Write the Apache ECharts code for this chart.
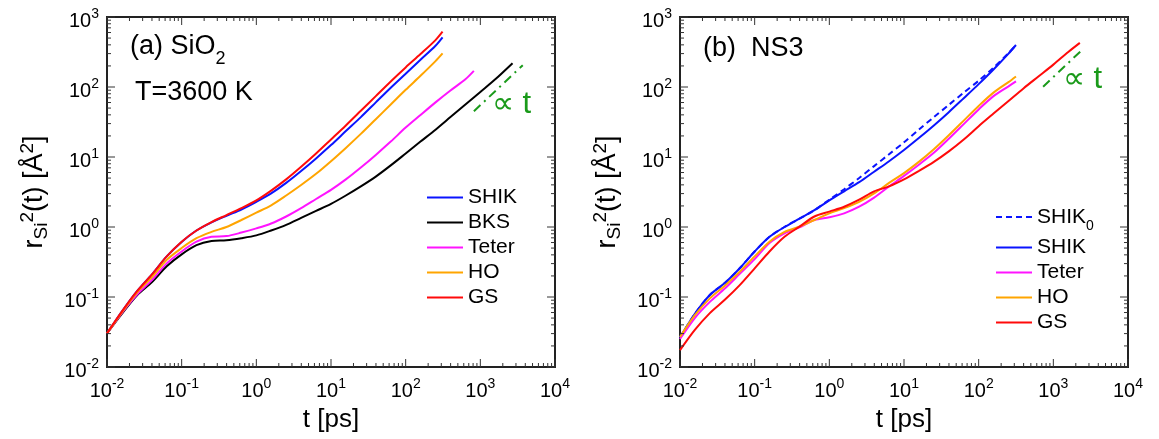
<!DOCTYPE html>
<html><head><meta charset="utf-8">
<script src="https://cdn.jsdelivr.net/npm/echarts@6/dist/echarts.min.js"></script>
<style>html,body{margin:0;padding:0;background:#fff}#c{width:1159px;height:439px}</style>
</head><body><div id="c"></div>
<script>
const FONT = '"Liberation Sans", Arial, Helvetica, sans-serif';

// ---------- panel (a) SiO2 ----------
const tA      = [0.01,0.0158,0.0251,0.0398,0.0631,0.1,0.158,0.251,0.398,0.631,1,1.58,2.51,3.98,6.31,10,15.8,25.1,39.8,63.1,100,158,251,312];
const shikA   = [0.0302,0.0617,0.120,0.209,0.380,0.610,0.891,1.161,1.445,1.778,2.291,3.020,4.266,6.310,9.550,14.79,23.44,37.15,60.26,97.72,154.9,245.5,389.0,512.9];
const gsA     = [0.0302,0.0617,0.120,0.209,0.380,0.617,0.891,1.175,1.479,1.862,2.399,3.311,4.786,7.244,11.22,17.78,28.18,45.71,74.13,120.2,190.5,295.1,467.7,616.6];
const hoA     = [0.0302,0.0603,0.115,0.191,0.339,0.501,0.692,0.851,1.0,1.259,1.603,2.042,2.818,3.981,5.754,8.710,13.49,21.38,34.67,56.23,91.20,144.5,234.4,302.0];
const tTeterA = [0.01,0.0158,0.0251,0.0398,0.0631,0.1,0.158,0.251,0.398,0.631,1,1.58,2.51,3.98,6.31,10,15.8,25.1,39.8,63.1,100,158,251,398,631,819];
const teterA  = [0.0302,0.0589,0.107,0.174,0.302,0.447,0.617,0.724,0.741,0.832,0.955,1.122,1.413,1.862,2.512,3.388,4.786,7.079,10.72,16.60,26.30,39.81,60.26,89.13,128.8,169.8];
const tBksA   = [0.01,0.0158,0.0251,0.0398,0.0631,0.1,0.158,0.251,0.398,0.631,1,1.58,2.51,3.98,6.31,10,15.8,25.1,39.8,63.1,100,158,251,398,631,1000,1585,2700];
const bksA    = [0.0302,0.0575,0.105,0.162,0.275,0.407,0.550,0.631,0.646,0.692,0.759,0.891,1.072,1.349,1.698,2.138,2.818,3.802,5.248,7.586,11.22,16.60,24.55,37.15,56.23,85.11,128.8,218.8];
const propTA  = [820, 3700];
const propRA  = [45, 205];

// ---------- panel (b) NS3 ----------
const tB      = [0.01,0.0158,0.0251,0.0398,0.0631,0.1,0.158,0.251,0.398,0.631,1,1.58,2.51,3.98,6.31,10,15.8,25.1,39.8,63.1,100,158,251,316];
const shikB   = [0.0263,0.0575,0.107,0.158,0.257,0.447,0.724,1.0,1.318,1.738,2.399,3.236,4.365,6.166,8.710,12.59,18.62,28.18,43.65,69.18,110.0,178.0,300.0,398.1];
const shik0B  = [0.0263,0.0575,0.107,0.158,0.257,0.447,0.724,1.0,1.318,1.738,2.455,3.467,5.012,7.413,10.96,16.22,24.55,37.15,55.46,83.18,123.0,189.0,305.0,398.1];
const hoB     = [0.0269,0.0550,0.0955,0.145,0.229,0.380,0.617,0.851,1.012,1.259,1.567,1.862,2.291,3.020,4.266,5.888,8.511,12.88,20.42,33.11,53.70,83.18,117.5,141.3];
const teterB  = [0.0251,0.0501,0.0851,0.132,0.214,0.347,0.589,0.813,0.989,1.259,1.380,1.567,1.950,2.630,3.802,5.370,7.762,11.48,18.20,29.51,47.86,74.13,102.3,120.2];
const tGsB    = [0.01,0.0158,0.0251,0.0398,0.0631,0.1,0.158,0.251,0.398,0.631,1,1.58,2.51,3.98,6.31,10,15.8,25.1,39.8,63.1,100,158,251,398,631,1000,1585,2265];
const gsB     = [0.0174,0.0339,0.0589,0.0912,0.148,0.257,0.447,0.724,1.012,1.413,1.660,1.950,2.455,3.236,3.802,4.786,6.310,8.511,12.02,17.78,27.54,41.69,63.10,95.50,141.3,208.9,316.2,426.6];
const propTB  = [730, 2560];
const propRB  = [101, 358];

// ---------- axes ----------
const xExps = ['-2','-1','0','1','2','3','4'];
const yExps = ['-2','-1','0','1','2','3'];
const xMin = 0.01, xMax = 10000, yMin = 0.01, yMax = 1000;

const COLORS = {SHIK:'#0a14ff', BKS:'#000000', Teter:'#ff14ff', HO:'#ffa500', GS:'#ff0a0a', prop:'#1a9a1a'};

function zip(t, r){ return t.map((v,i)=>[v, r[i]]); }

// tick list (major at decades, minor at 2..9)
function tickList(lo, hi, axisFlag){
  const out = [];
  for (let e = lo; e <= hi; e++){
    const d = Math.pow(10, e);
    out.push(axisFlag === 0 ? [d, 1, 0, 1] : [1, d, 1, 1]);
    if (e < hi) for (let m = 2; m <= 9; m++){
      const v = m * d;
      out.push(axisFlag === 0 ? [v, 1, 0, 0] : [1, v, 1, 0]);
    }
  }
  return out;
}
const tickData = tickList(-2, 4, 0).concat(tickList(-2, 3, 1));

function tickSeries(idx){
  return {
    type:'custom', xAxisIndex: idx, yAxisIndex: idx, silent:true, clip:false, z: 5,
    dimensions:['x','y','axis','major'],
    encode:{x:0, y:1},
    data: tickData,
    renderItem: function(params, api){
      const cs = params.coordSys;
      const len = api.value(3) ? 8 : 4;
      const st = {stroke:'#333', lineWidth:1};
      if (api.value(2) === 0){
        const x = api.coord([api.value(0), 1])[0];
        return {type:'group', children:[
          {type:'line', shape:{x1:x, y1:cs.y+cs.height, x2:x, y2:cs.y+cs.height-len}, style:st},
          {type:'line', shape:{x1:x, y1:cs.y, x2:x, y2:cs.y+len}, style:st}
        ]};
      } else {
        const y = api.coord([1, api.value(1)])[1];
        return {type:'group', children:[
          {type:'line', shape:{x1:cs.x, y1:y, x2:cs.x+len, y2:y}, style:st},
          {type:'line', shape:{x1:cs.x+cs.width, y1:y, x2:cs.x+cs.width-len, y2:y}, style:st}
        ]};
      }
    }
  };
}

function xAxis(idx){
  return {
    type:'log', logBase:10, gridIndex: idx, min:xMin, max:xMax,
    name:'t [ps]', nameLocation:'middle', nameGap:40,
    nameTextStyle:{fontSize:26, fontFamily:FONT, color:'#000'},
    axisLine:{show:false}, axisTick:{show:false}, splitLine:{show:false}, minorTick:{show:false},
    axisLabel:{
      margin:10, color:'#000',
      formatter:(v,i)=>'{b|10}{s|'+xExps[i]+'}',
      rich:{ b:{fontSize:20, lineHeight:28, fontFamily:FONT, color:'#000'},
             s:{fontSize:14, lineHeight:14, verticalAlign:'top', fontFamily:FONT, color:'#000'} }
    }
  };
}
function yAxis(idx){
  return {
    type:'log', logBase:10, gridIndex: idx, min:yMin, max:yMax,
    name:'{n|r}{sub|Si}{sup|2}{n|(t) [Å}{sup|2}{n|]}', nameLocation:'middle', nameGap:56, nameRotate:90,
    nameTextStyle:{fontFamily:FONT, color:'#000',
      rich:{ n:{fontSize:27, lineHeight:33, fontFamily:FONT, color:'#000'},
             sub:{fontSize:19, lineHeight:19, verticalAlign:'bottom', fontFamily:FONT, color:'#000'},
             sup:{fontSize:19, lineHeight:19, verticalAlign:'top', fontFamily:FONT, color:'#000'} }},
    axisLine:{show:false}, axisTick:{show:false}, splitLine:{show:false}, minorTick:{show:false},
    axisLabel:{
      margin:8, color:'#000', padding:[8,0,0,0],
      formatter:(v,i)=>'{b|10}{s|'+yExps[i]+'}',
      rich:{ b:{fontSize:20, lineHeight:28, fontFamily:FONT, color:'#000'},
             s:{fontSize:14, lineHeight:14, verticalAlign:'top', fontFamily:FONT, color:'#000'} }
    }
  };
}

function line(name, data, idx, color, dashed){
  return {
    type:'line', name, data, xAxisIndex: idx, yAxisIndex: idx,
    symbol:'none', showSymbol:false, smooth:0.3, z:3,
    lineStyle:{color, width:2, type: dashed ? [6,4] : 'solid'},
    itemStyle:{color}
  };
}
function propLine(t, r, idx){
  return {
    type:'line', name:'prop', data: zip(t, r), xAxisIndex: idx, yAxisIndex: idx,
    symbol:'none', z:4,
    lineStyle:{color:COLORS.prop, width:2, type:[9,5,2,5]}, itemStyle:{color:COLORS.prop}
  };
}

const legendText = {fontSize:21, fontFamily:FONT, color:'#000', lineHeight:20,
  rich:{ sub:{fontSize:14, lineHeight:14, padding:[18,0,0,0], fontFamily:FONT, color:'#000'} }};
const DASH_ICON = 'path://M0,0h6v2h-6z M10,0h6v2h-6z M20,0h6v2h-6z M30,0h6v2h-6z';

const option = {
  animation:false,
  backgroundColor:'#fff',
  grid:[
    {left:107, top:17, width:448, height:350, show:true, borderColor:'#222', borderWidth:2, backgroundColor:'transparent'},
    {left:680, top:17, width:448, height:350, show:true, borderColor:'#222', borderWidth:2, backgroundColor:'transparent'}
  ],
  xAxis:[xAxis(0), xAxis(1)],
  yAxis:[yAxis(0), yAxis(1)],
  legend:[
    {data:['SHIK','BKS','Teter','HO','GS'], orient:'vertical', left:422, top:182, icon:'rect',
     itemWidth:36, itemHeight:2, itemGap:4, selectedMode:false, textStyle:legendText},
    {data:[{name:'SHIK0', icon:DASH_ICON},'SHIK','Teter','HO','GS'], orient:'vertical', left:991, top:196, icon:'rect',
     itemWidth:36, itemHeight:2, itemGap:4, selectedMode:false, textStyle:legendText,
     formatter:(n)=> n === 'SHIK0' ? 'SHIK{sub|0}' : n}
  ],
  graphic:[
    {type:'text', left:130, top:33, style:{text:'{m|(a) SiO}{s|2}', fill:'#000',
      rich:{m:{fontSize:27, lineHeight:32, fontFamily:FONT, fill:'#000'},
            s:{fontSize:18, lineHeight:18, verticalAlign:'bottom', padding:[0,0,-6,0], fontFamily:FONT, fill:'#000'}}}},
    {type:'text', left:135, top:79, style:{text:'T=3600 K', font:'27px '+FONT, fill:'#000'}},
    {type:'text', left:703, top:35, style:{text:'(b)  NS3', font:'27px '+FONT, fill:'#000'}},
    {type:'text', left:492, top:89, style:{text:'∝ t', font:'31px '+FONT, fill:COLORS.prop}},
    {type:'text', left:1063, top:64, style:{text:'∝ t', font:'31px '+FONT, fill:COLORS.prop}}
  ],
  series:[
    tickSeries(0), tickSeries(1),
    line('SHIK', zip(tA, shikA), 0, COLORS.SHIK),
    line('BKS', zip(tBksA, bksA), 0, COLORS.BKS),
    line('Teter', zip(tTeterA, teterA), 0, COLORS.Teter),
    line('HO', zip(tA, hoA), 0, COLORS.HO),
    line('GS', zip(tA, gsA), 0, COLORS.GS),
    propLine(propTA, propRA, 0),
    line('SHIK0', zip(tB, shik0B), 1, COLORS.SHIK, true),
    line('SHIK', zip(tB, shikB), 1, COLORS.SHIK),
    line('Teter', zip(tB, teterB), 1, COLORS.Teter),
    line('HO', zip(tB, hoB), 1, COLORS.HO),
    line('GS', zip(tGsB, gsB), 1, COLORS.GS),
    propLine(propTB, propRB, 1)
  ]
};
const chart = echarts.init(document.getElementById('c'), null, {renderer:'canvas'});
chart.setOption(option);
</script>
</body></html>
